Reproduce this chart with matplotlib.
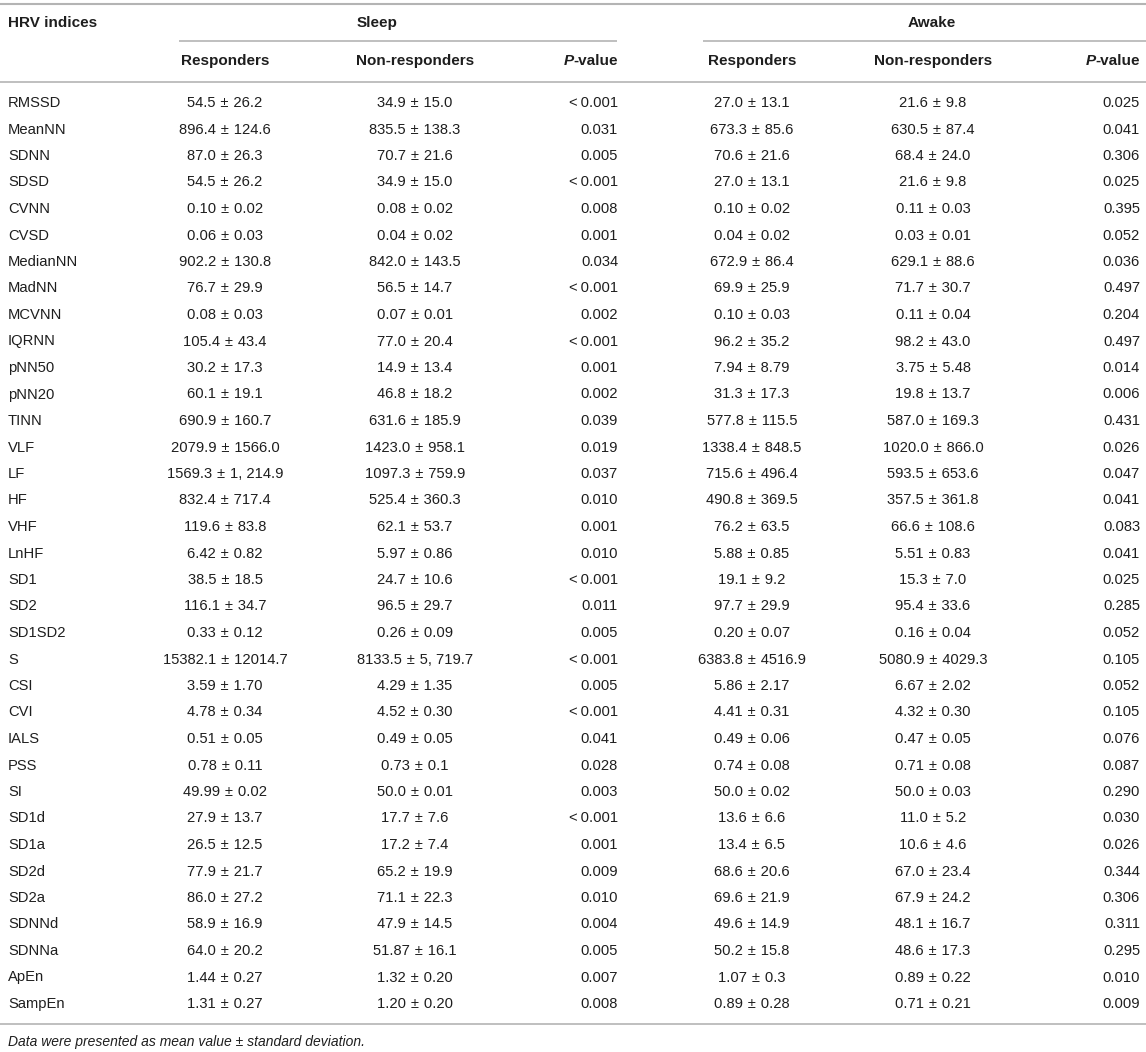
import matplotlib
matplotlib.use("Agg")
import matplotlib.pyplot as plt

# table content
indices = ["RMSSD", "MeanNN", "SDNN", "SDSD", "CVNN", "CVSD", "MedianNN", "MadNN",
           "MCVNN", "IQRNN", "pNN50", "pNN20", "TINN", "VLF", "LF", "HF", "VHF",
           "LnHF", "SD1", "SD2", "SD1SD2", "S", "CSI", "CVI", "IALS", "PSS", "SI",
           "SD1d", "SD1a", "SD2d", "SD2a", "SDNNd", "SDNNa", "ApEn", "SampEn"]

sleep_resp = ["54.5 ± 26.2", "896.4 ± 124.6", "87.0 ± 26.3", "54.5 ± 26.2", "0.10 ± 0.02",
              "0.06 ± 0.03", "902.2 ± 130.8", "76.7 ± 29.9", "0.08 ± 0.03", "105.4 ± 43.4",
              "30.2 ± 17.3", "60.1 ± 19.1", "690.9 ± 160.7", "2079.9 ± 1566.0",
              "1569.3 ± 1, 214.9", "832.4 ± 717.4", "119.6 ± 83.8", "6.42 ± 0.82",
              "38.5 ± 18.5", "116.1 ± 34.7", "0.33 ± 0.12", "15382.1 ± 12014.7",
              "3.59 ± 1.70", "4.78 ± 0.34", "0.51 ± 0.05", "0.78 ± 0.11", "49.99 ± 0.02",
              "27.9 ± 13.7", "26.5 ± 12.5", "77.9 ± 21.7", "86.0 ± 27.2", "58.9 ± 16.9",
              "64.0 ± 20.2", "1.44 ± 0.27", "1.31 ± 0.27"]

sleep_nonresp = ["34.9 ± 15.0", "835.5 ± 138.3", "70.7 ± 21.6", "34.9 ± 15.0", "0.08 ± 0.02",
                 "0.04 ± 0.02", "842.0 ± 143.5", "56.5 ± 14.7", "0.07 ± 0.01", "77.0 ± 20.4",
                 "14.9 ± 13.4", "46.8 ± 18.2", "631.6 ± 185.9", "1423.0 ± 958.1",
                 "1097.3 ± 759.9", "525.4 ± 360.3", "62.1 ± 53.7", "5.97 ± 0.86",
                 "24.7 ± 10.6", "96.5 ± 29.7", "0.26 ± 0.09", "8133.5 ± 5, 719.7",
                 "4.29 ± 1.35", "4.52 ± 0.30", "0.49 ± 0.05", "0.73 ± 0.1", "50.0 ± 0.01",
                 "17.7 ± 7.6", "17.2 ± 7.4", "65.2 ± 19.9", "71.1 ± 22.3", "47.9 ± 14.5",
                 "51.87 ± 16.1", "1.32 ± 0.20", "1.20 ± 0.20"]

sleep_p = ["<0.001", "0.031", "0.005", "<0.001", "0.008", "0.001", "0.034", "<0.001",
           "0.002", "<0.001", "0.001", "0.002", "0.039", "0.019", "0.037", "0.010",
           "0.001", "0.010", "<0.001", "0.011", "0.005", "<0.001", "0.005", "<0.001",
           "0.041", "0.028", "0.003", "<0.001", "0.001", "0.009", "0.010", "0.004",
           "0.005", "0.007", "0.008"]

awake_resp = ["27.0 ± 13.1", "673.3 ± 85.6", "70.6 ± 21.6", "27.0 ± 13.1", "0.10 ± 0.02",
              "0.04 ± 0.02", "672.9 ± 86.4", "69.9 ± 25.9", "0.10 ± 0.03", "96.2 ± 35.2",
              "7.94 ± 8.79", "31.3 ± 17.3", "577.8 ± 115.5", "1338.4 ± 848.5",
              "715.6 ± 496.4", "490.8 ± 369.5", "76.2 ± 63.5", "5.88 ± 0.85",
              "19.1 ± 9.2", "97.7 ± 29.9", "0.20 ± 0.07", "6383.8 ± 4516.9",
              "5.86 ± 2.17", "4.41 ± 0.31", "0.49 ± 0.06", "0.74 ± 0.08", "50.0 ± 0.02",
              "13.6 ± 6.6", "13.4 ± 6.5", "68.6 ± 20.6", "69.6 ± 21.9", "49.6 ± 14.9",
              "50.2 ± 15.8", "1.07 ± 0.3", "0.89 ± 0.28"]

awake_nonresp = ["21.6 ± 9.8", "630.5 ± 87.4", "68.4 ± 24.0", "21.6 ± 9.8", "0.11 ± 0.03",
                 "0.03 ± 0.01", "629.1 ± 88.6", "71.7 ± 30.7", "0.11 ± 0.04", "98.2 ± 43.0",
                 "3.75 ± 5.48", "19.8 ± 13.7", "587.0 ± 169.3", "1020.0 ± 866.0",
                 "593.5 ± 653.6", "357.5 ± 361.8", "66.6 ± 108.6", "5.51 ± 0.83",
                 "15.3 ± 7.0", "95.4 ± 33.6", "0.16 ± 0.04", "5080.9 ± 4029.3",
                 "6.67 ± 2.02", "4.32 ± 0.30", "0.47 ± 0.05", "0.71 ± 0.08", "50.0 ± 0.03",
                 "11.0 ± 5.2", "10.6 ± 4.6", "67.0 ± 23.4", "67.9 ± 24.2", "48.1 ± 16.7",
                 "48.6 ± 17.3", "0.89 ± 0.22", "0.71 ± 0.21"]

awake_p = ["0.025", "0.041", "0.306", "0.025", "0.395", "0.052", "0.036", "0.497",
           "0.204", "0.497", "0.014", "0.006", "0.431", "0.026", "0.047", "0.041",
           "0.083", "0.041", "0.025", "0.285", "0.052", "0.105", "0.052", "0.105",
           "0.076", "0.087", "0.290", "0.030", "0.026", "0.344", "0.306", "0.311",
           "0.295", "0.010", "0.009"]

footnote = "Data were presented as mean value ± standard deviation."

plt.rcParams["font.family"] = ["Liberation Sans", "DejaVu Sans"]

W, H = 1146, 1052
fig = plt.figure(figsize=(W / 100, H / 100), dpi=100)
ax = fig.add_axes([0, 0, 1, 1])
ax.set_xlim(0, W)
ax.set_ylim(H, 0)
ax.axis("off")

txt = "#1e1e1e"
line_c = "#b4b4b4"
fs = 10.6
hfs = 11

def pm(s):
    # a bit more room round the plus-minus sign, like the typeset original
    return s.replace(" ± ", "\u2004±\u2004")

# rules
ax.plot([0, W], [4, 4], color=line_c, lw=1.5, solid_capstyle="butt")
ax.plot([179, 617], [41, 41], color=line_c, lw=1.2, solid_capstyle="butt")
ax.plot([703, W], [41, 41], color=line_c, lw=1.2, solid_capstyle="butt")
ax.plot([0, W], [82, 82], color=line_c, lw=1.2, solid_capstyle="butt")

# headers
ax.text(8, 23, "HRV indices", ha="left", va="center", fontsize=hfs, fontweight="bold", color=txt)
ax.text(377, 23, "Sleep", ha="center", va="center", fontsize=hfs, fontweight="bold", color=txt)
ax.text(932, 23, "Awake", ha="center", va="center", fontsize=hfs, fontweight="bold", color=txt)

col_resp_s, col_non_s, col_p_s = 225, 415, 618
col_resp_a, col_non_a, col_p_a = 752, 933, 1140

for xc, lab in [(col_resp_s, "Responders"), (col_non_s, "Non-responders"),
                (col_resp_a, "Responders"), (col_non_a, "Non-responders")]:
    ax.text(xc, 61, lab, ha="center", va="center", fontsize=hfs, fontweight="bold", color=txt)

fig.canvas.draw()
for xr in [col_p_s, col_p_a]:
    t = ax.text(xr, 61, "-value", ha="right", va="center", fontsize=hfs, fontweight="bold", color=txt)
    bb = t.get_window_extent(renderer=fig.canvas.get_renderer())
    x0 = ax.transData.inverted().transform((bb.x0, 0))[0]
    ax.text(x0, 61, "P", ha="right", va="center", fontsize=hfs, fontweight="bold",
            style="italic", color=txt)

# body rows
y0, dy = 103, 26.5
for i, name in enumerate(indices):
    y = y0 + i * dy
    ax.text(8, y, name, ha="left", va="center", fontsize=fs, color=txt)
    ax.text(col_resp_s, y, pm(sleep_resp[i]), ha="center", va="center", fontsize=fs, color=txt)
    ax.text(col_non_s, y, pm(sleep_nonresp[i]), ha="center", va="center", fontsize=fs, color=txt)
    ax.text(col_p_s, y, sleep_p[i].replace("<", "<\u2009"), ha="right", va="center", fontsize=fs, color=txt)
    ax.text(col_resp_a, y, pm(awake_resp[i]), ha="center", va="center", fontsize=fs, color=txt)
    ax.text(col_non_a, y, pm(awake_nonresp[i]), ha="center", va="center", fontsize=fs, color=txt)
    ax.text(col_p_a, y, awake_p[i], ha="right", va="center", fontsize=fs, color=txt)

y_last = y0 + (len(indices) - 1) * dy
ax.plot([0, W], [y_last + 20, y_last + 20], color=line_c, lw=1.2, solid_capstyle="butt")
ax.text(8, y_last + 38, footnote, ha="left", va="center", fontsize=10, style="italic", color=txt)

fig.savefig("out.png", dpi=100)
